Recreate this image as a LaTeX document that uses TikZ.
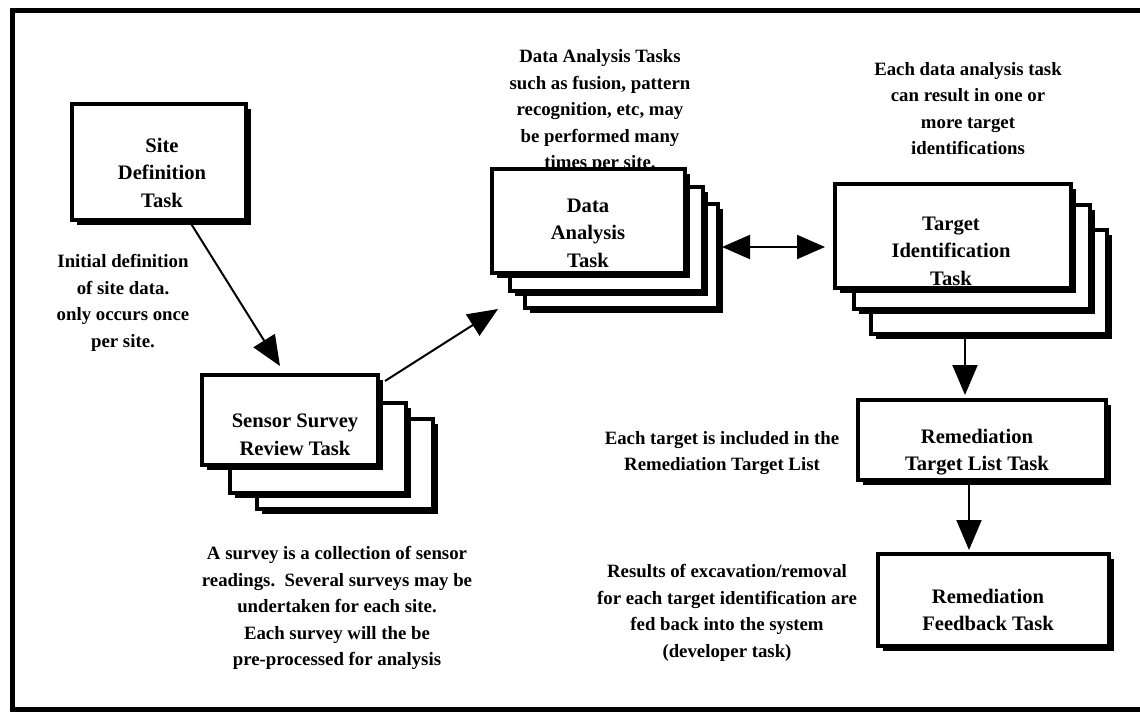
\documentclass[tikz,border=0pt]{standalone}
\usepackage{fontspec}
\setmainfont{Liberation Serif}
\usetikzlibrary{arrows.meta,shadows,calc}

\tikzset{
  taskbox/.style={draw, line width=4pt, fill=white, rectangle, inner sep=0pt,
    drop shadow={shadow xshift=5pt, shadow yshift=-5pt, fill=black, opacity=1}},
  boxtext/.style={align=center, inner sep=0pt,
    font=\bfseries\fontsize{20.6}{27.5}\selectfont},
  note/.style={align=center, inner sep=0pt,
    font=\bfseries\fontsize{18.8}{26.5}\selectfont},
  flow/.style={line width=2pt, -{Triangle[length=30pt,width=25pt]}},
  twoway/.style={line width=2pt, {Triangle[length=28pt,width=24pt]}-{Triangle[length=28pt,width=24pt]}},
}

\begin{document}
\begin{tikzpicture}[x=1pt,y=-1pt]
  \useasboundingbox (0,0) rectangle (1140,714);
  \clip (0,0) rectangle (1140,714);

  % outer frame (runs off the right edge)
  \draw[line width=5pt] (12,11) rectangle (1170,709);

  % explanatory notes (drawn first so boxes sit on top of them)
  \node[note] (site-n) at (123,303) {Initial definition\\of site data.\\only occurs once\\per site.};
  \node[note] (sen-n) at (337,608) {A survey is a collection of sensor\\readings.\ \ Several surveys may be\\undertaken for each site.\\Each survey will the be\\pre-processed for analysis};
  \node[note] (da-n) at (600,111) {Data Analysis Tasks\\such as fusion, pattern\\recognition, etc, may\\be performed many\\times per site.};
  \node[note] (ti-n) at (968,108.5) {Each data analysis task\\can result in one or\\more target\\identifications};
  \node[note] (rtl-n) at (722,453) {Each target is included in the\\Remediation Target List};
  \node[note] (fb-n) at (727,613) {Results of excavation/removal\\for each target identification are\\fed back into the system\\(developer task)};

  % single task boxes
  \node[taskbox, minimum width=174pt, minimum height=116pt] (site) at (159,162) {};
  \node[taskbox, minimum width=248pt, minimum height=80pt] (rtl) at (982,440) {};
  \node[taskbox, minimum width=231pt, minimum height=92pt] (fb) at (993.5,600) {};

  % stacked (repeated) task boxes, back to front
  \node[taskbox, minimum width=176pt, minimum height=90pt] (sen3) at (345,464) {};
  \node[taskbox, minimum width=176pt, minimum height=90pt] (sen2) at (318,448) {};
  \node[taskbox, minimum width=176pt, minimum height=90pt] (sen1) at (290,420) {};

  \node[taskbox, minimum width=193pt, minimum height=104pt] (da3) at (621.5,256) {};
  \node[taskbox, minimum width=193pt, minimum height=104pt] (da2) at (606.5,239) {};
  \node[taskbox, minimum width=193pt, minimum height=104pt] (da1) at (588.5,221) {};

  \node[taskbox, minimum width=236pt, minimum height=104pt] (ti3) at (989,282) {};
  \node[taskbox, minimum width=236pt, minimum height=104pt] (ti2) at (972,257) {};
  \node[taskbox, minimum width=236pt, minimum height=104pt] (ti1) at (953,236) {};

  % box captions
  \node[boxtext] (site-t) at (162,172.5) {Site\\Definition\\Task};
  \node[boxtext] (sen-t) at (295,435) {Sensor Survey\\Review Task};
  \node[boxtext] (da-t) at (588,233) {Data\\Analysis\\Task};
  \node[boxtext] (ti-t) at (951,251) {Target\\Identification\\Task};
  \node[boxtext] (rtl-t) at (977,452) {Remediation\\Target List Task};
  \node[boxtext] (fb-t) at (988,610) {Remediation\\Feedback Task};

  % connectors
  \draw[flow] ($(site.south)+(31,0)$) -- ($(sen1.north)+(-10,-7)$);
  \draw[flow] ($(sen1.north east)+(5,8)$) -- ($(da2.south west)+(-10,16)$);
  \draw[twoway] ($(da3.east)+(2,-9)$) -- ($(ti1.west)+(-8,11)$);
  \draw[flow] ($(ti3.south)+(-24,2)$) -- ($(rtl.north)+(-17,-3)$);
  \draw[flow] ($(rtl.south)+(-13,2)$) -- ($(fb.north)+(-24.5,-2)$);
\end{tikzpicture}
\end{document}
